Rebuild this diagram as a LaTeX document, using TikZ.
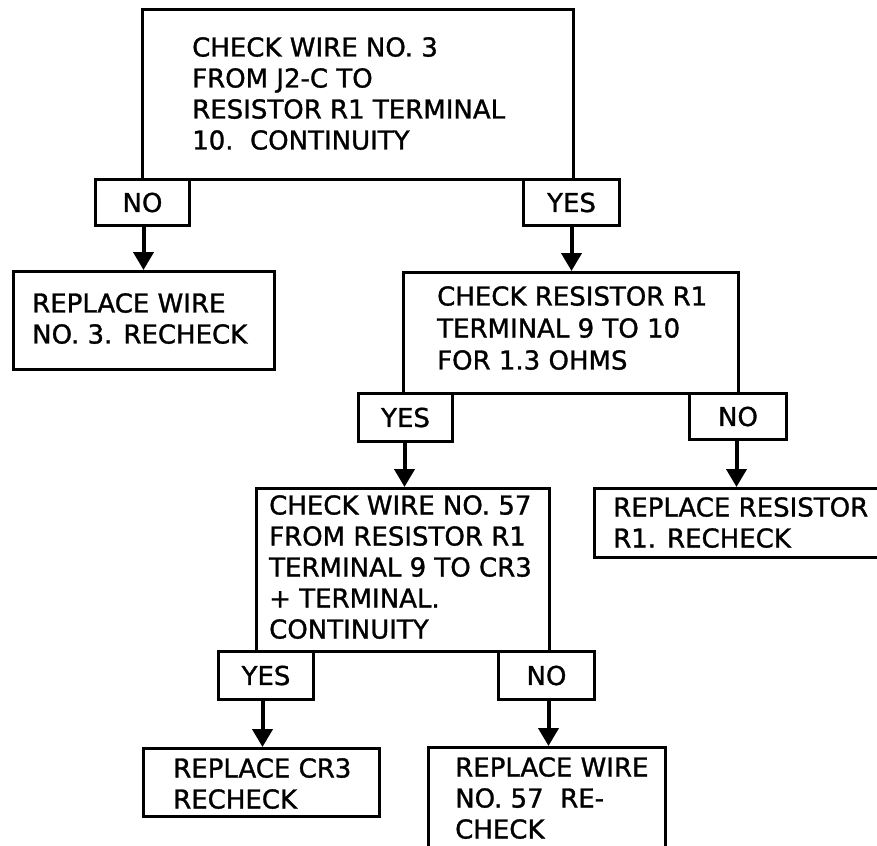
\documentclass[tikz,border=0pt]{standalone}
\usepackage{fontspec}
\setmainfont[FakeBold=1.2]{DejaVu Sans}
\usetikzlibrary{arrows.meta}
\begin{document}
\begin{tikzpicture}[x=1pt,y=1pt,
  box/.style={draw, line width=3pt, inner sep=0pt, anchor=north west},
  lbl/.style={draw, line width=3pt, inner sep=0pt, anchor=north west, font=\fontsize{26}{31}\selectfont},
  txt/.style={anchor=north west, inner sep=0pt, align=left, font=\fontsize{26}{31}\selectfont},
  arr/.style={line width=4pt, -{Triangle[width=20pt,length=18pt]}}
]
\useasboundingbox (0,0) rectangle (877,-845);
\clip (0,0) rectangle (877,-845);
% boxes
\node[box, minimum width=431pt, minimum height=170pt] (top) at (141,-8) {};
\node[lbl, minimum width=94pt, minimum height=46pt] (no1) at (94,-178) {NO};
\node[lbl, minimum width=96pt, minimum height=46pt] (yes1) at (522,-178) {YES};
\node[box, minimum width=261pt, minimum height=98pt] (r3) at (12,-270) {};
\node[box, minimum width=335pt, minimum height=121pt] (r1) at (402,-271) {};
\node[lbl, minimum width=94pt, minimum height=48pt] (yes2) at (357,-392) {YES};
\node[lbl, minimum width=97pt, minimum height=46pt] (no2) at (688,-392) {NO};
\node[box, minimum width=310pt, minimum height=69pt] (res) at (593,-487) {};
\node[box, minimum width=293pt, minimum height=163pt] (w57) at (255,-487) {};
\node[lbl, minimum width=95pt, minimum height=48pt] (yes3) at (217,-650) {YES};
\node[lbl, minimum width=96pt, minimum height=48pt] (no3) at (497,-650) {NO};
\node[box, minimum width=236pt, minimum height=68pt] (cr3) at (142,-747) {};
\node[box, minimum width=237pt, minimum height=130pt] (w57r) at (427,-746) {};
% texts
\node[txt] (topT) at (192,-37) {CHECK WIRE NO. 3\\FROM J2-C TO\\RESISTOR R1 TERMINAL\\10.\ \ CONTINUITY};
\node[txt] (r3T) at (32,-293) {REPLACE WIRE\\NO. 3. RECHECK};
\node[txt, font=\fontsize{26}{32}\selectfont] (r1T) at (437,-286) {CHECK RESISTOR R1\\TERMINAL 9 TO 10\\FOR 1.3 OHMS};
\node[txt] (resT) at (613,-497) {REPLACE RESISTOR\\R1. RECHECK};
\node[txt] (w57T) at (269,-495) {CHECK WIRE NO. 57\\FROM RESISTOR R1\\TERMINAL 9 TO CR3\\+ TERMINAL.\\CONTINUITY};
\node[txt] (cr3T) at (173,-758) {REPLACE CR3\\RECHECK};
\node[txt] (w57rT) at (455,-757) {REPLACE WIRE\\NO. 57\ \ RE-\\CHECK};
% arrows
\draw[arr] ([xshift=1pt]no1.south) -- ([xshift=1pt]no1.south |- r3.north);
\draw[arr] (yes1.south) -- (yes1.south |- r1.north);
\draw[arr] ([xshift=-1pt]yes2.south) -- ([xshift=-1pt]yes2.south |- w57.north);
\draw[arr] ([xshift=-1.5pt]no2.south) -- ([xshift=-1.5pt]no2.south |- res.north);
\draw[arr] ([xshift=-3.5pt]yes3.south) -- ([xshift=-3.5pt]yes3.south |- cr3.north);
\draw[arr] ([xshift=2pt]no3.south) -- ([xshift=2pt]no3.south |- w57r.north);
\end{tikzpicture}
\end{document}
